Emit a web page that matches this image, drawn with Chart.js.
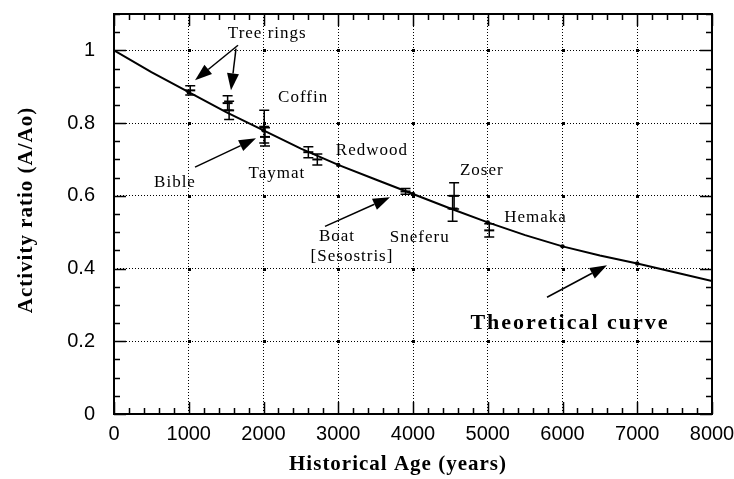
<!DOCTYPE html>
<html>
<head>
<meta charset="utf-8">
<title>Activity ratio vs historical age</title>
<script src="https://cdn.jsdelivr.net/npm/chart.js@4.4.1/dist/chart.umd.min.js"></script>
<style>
  html, body { margin: 0; padding: 0; background: #fff; }
  #wrap { position: relative; width: 734px; height: 479px; }
</style>
</head>
<body>
<div id="wrap"><canvas id="chart"></canvas></div>
<script>
// theoretical decay curve, every 500 years
const curveAges = [0, 500, 1000, 1500, 2000, 2500, 3000, 3500, 4000, 4500, 5000, 5500, 6000, 6500, 7000, 7500, 8000];
const curveRatios = [1.0, 0.94, 0.885, 0.83, 0.78, 0.73, 0.685, 0.645, 0.605, 0.565, 0.527, 0.492, 0.461, 0.436, 0.414, 0.39, 0.366];

// dated samples (value and +/- error)
const sampleNames = ['Tree rings', 'Tree rings', 'Tree rings', 'Coffin', 'Taymat', 'Redwood', 'Redwood', 'Boat', 'Zoser', 'Sneferu', 'Hemaka'];
const sampleAges = [1020, 1520, 1540, 2010, 2020, 2600, 2720, 3900, 4550, 4530, 5020];
const sampleRatios = [0.89, 0.855, 0.835, 0.79, 0.762, 0.72, 0.70, 0.612, 0.60, 0.565, 0.505];
const sampleErrors = [0.013, 0.02, 0.025, 0.045, 0.025, 0.015, 0.015, 0.008, 0.036, 0.035, 0.018];

// axis ticks
const xTicks = [0, 1000, 2000, 3000, 4000, 5000, 6000, 7000, 8000];
const yTicks = [0, 0.2, 0.4, 0.6, 0.8, 1];
const xMinorStep = 200;
const yMinorStep = 0.05;

// text labels on the plot (data coordinates)
const noteTexts = ['Tree rings', 'Coffin', 'Bible', 'Taymat', 'Redwood', 'Boat', '[Sesostris]', 'Zoser', 'Sneferu', 'Hemaka'];
const noteX = [2050, 2530, 816, 2180, 3450, 2983, 3184, 4920, 4090, 5640];
const noteY = [1.047, 0.871, 0.637, 0.662, 0.725, 0.489, 0.434, 0.670, 0.486, 0.541];

// arrows: start -> tip (data coordinates)
const arrowFrom = [[1659, 1.014], [1632, 1.005], [1084, 0.679], [2823, 0.516], [5793, 0.321]];
const arrowTo = [[1084, 0.918], [1565, 0.890], [1900, 0.758], [3692, 0.596], [6595, 0.409]];

const tickFont = { family: 'Liberation Sans', size: 20 };

function drawArrow(ctx, x1, y1, x2, y2) {
    const ang = Math.atan2(y2 - y1, x2 - x1);
    const len = 17, half = 6;
    const bx = x2 - len * Math.cos(ang), by = y2 - len * Math.sin(ang);
    ctx.beginPath();
    ctx.moveTo(x1, y1);
    ctx.lineTo(bx, by);
    ctx.stroke();
    ctx.beginPath();
    ctx.moveTo(x2, y2);
    ctx.lineTo(bx + half * Math.sin(ang), by - half * Math.cos(ang));
    ctx.lineTo(bx - half * Math.sin(ang), by + half * Math.cos(ang));
    ctx.closePath();
    ctx.fill();
}

// the frame is set by layout padding, not by label overhang
function noPad(s) {
    s.paddingTop = 0;
    s.paddingBottom = 0;
    s.paddingLeft = 0;
    s.paddingRight = 0;
}

const decor = {
    id: 'decor',
    beforeDatasetsDraw(chart) {
        const ctx = chart.ctx;
        const xs = chart.scales.x, ys = chart.scales.y;
        // dots where the grid lines cross
        ctx.save();
        ctx.fillStyle = '#000';
        xTicks.slice(1, -1).forEach(xv => {
            yTicks.slice(1).forEach(yv => {
                ctx.fillRect(Math.round(xs.getPixelForValue(xv)) - 1, Math.round(ys.getPixelForValue(yv)) - 1, 3, 3);
            });
        });
        ctx.restore();
    },
    afterDatasetsDraw(chart) {
        const ctx = chart.ctx;
        const area = chart.chartArea;
        const xs = chart.scales.x, ys = chart.scales.y;
        ctx.save();
        ctx.strokeStyle = '#000';
        ctx.fillStyle = '#000';

        // error bars
        ctx.lineWidth = 1.5;
        sampleAges.forEach((age, i) => {
            const px = xs.getPixelForValue(age);
            const top = ys.getPixelForValue(sampleRatios[i] + sampleErrors[i]);
            const bot = ys.getPixelForValue(sampleRatios[i] - sampleErrors[i]);
            ctx.beginPath();
            ctx.moveTo(px, top); ctx.lineTo(px, bot);
            ctx.moveTo(px - 5, top); ctx.lineTo(px + 5, top);
            ctx.moveTo(px - 5, bot); ctx.lineTo(px + 5, bot);
            ctx.stroke();
        });

        // frame
        ctx.lineWidth = 2;
        ctx.strokeRect(area.left, area.top, area.right - area.left, area.bottom - area.top);

        // inward ticks, major and minor, on all four sides
        ctx.lineWidth = 1.5;
        ctx.beginPath();
        for (let v = 0; v <= 8000; v += xMinorStep) {
            const px = Math.round(xs.getPixelForValue(v)) + 0.5;
            const len = xTicks.includes(v) ? 12 : 6;
            ctx.moveTo(px, area.bottom); ctx.lineTo(px, area.bottom - len);
            ctx.moveTo(px, area.top); ctx.lineTo(px, area.top + len);
        }
        for (let k = 0; k <= 22; k++) {
            const v = k * yMinorStep;
            const py = Math.round(ys.getPixelForValue(v)) + 0.5;
            const len = (k % 4 === 0) ? 12 : 6;
            ctx.moveTo(area.left, py); ctx.lineTo(area.left + len, py);
            ctx.moveTo(area.right, py); ctx.lineTo(area.right - len, py);
        }
        ctx.stroke();

        // notes
        ctx.textAlign = 'center';
        ctx.textBaseline = 'middle';
        ctx.font = '17px "Liberation Serif"';
        ctx.letterSpacing = '1px';
        noteTexts.forEach((t, i) => {
            ctx.fillText(t, xs.getPixelForValue(noteX[i]), ys.getPixelForValue(noteY[i]));
        });
        ctx.font = 'bold 22px "Liberation Serif"';
        ctx.letterSpacing = '2px';
        ctx.fillText('Theoretical curve', xs.getPixelForValue(6100), ys.getPixelForValue(0.25));

        // arrows
        ctx.lineWidth = 1.5;
        arrowFrom.forEach((f, i) => {
            drawArrow(ctx, xs.getPixelForValue(f[0]), ys.getPixelForValue(f[1]),
                xs.getPixelForValue(arrowTo[i][0]), ys.getPixelForValue(arrowTo[i][1]));
        });

        // axis titles
        ctx.font = 'bold 21px "Liberation Serif"';
        ctx.letterSpacing = '1px';
        ctx.fillText('Historical Age (years)', 398, 465);
        ctx.translate(27, 210);
        ctx.rotate(-Math.PI / 2);
        ctx.fillText('Activity ratio (A/Ao)', 0, 0);
        ctx.restore();
    }
};

new Chart(document.getElementById('chart'), {
    type: 'scatter',
    data: {
        datasets: [{
            type: 'line',
            label: 'Theoretical curve',
            data: curveAges.map((a, i) => ({ x: a, y: curveRatios[i] })),
            borderColor: '#000',
            borderWidth: 2,
            tension: 0,
            fill: false,
            pointBackgroundColor: '#000',
            pointBorderWidth: 0,
            pointRadius: ctx => {
                const a = curveAges[ctx.dataIndex];
                return (a % 1000 === 0 && a > 0 && a < 8000) ? 2.2 : 0;
            }
        }, {
            label: 'Samples',
            data: sampleAges.map((a, i) => ({ x: a, y: sampleRatios[i] })),
            pointStyle: 'line',
            pointRadius: 5,
            borderColor: '#000',
            borderWidth: 2
        }]
    },
    options: {
        responsive: true,
        maintainAspectRatio: false,
        animation: false,
        layout: { padding: { top: 14, right: 22, left: 0, bottom: 0 } },
        plugins: {
            legend: { display: false },
            tooltip: { enabled: false }
        },
        scales: {
            x: {
                type: 'linear',
                min: 0,
                max: 8000,
                afterBuildTicks: s => { s.ticks = xTicks.map(v => ({ value: v })); },
                afterFit: s => { s.height = 65; noPad(s); },
                ticks: { callback: v => String(v), font: tickFont, color: '#000', padding: 8, maxRotation: 0, autoSkip: false },
                grid: { color: '#000', lineWidth: 1, drawTicks: false },
                border: { display: false, dash: [1, 2] }
            },
            y: {
                type: 'linear',
                min: 0,
                max: 1.1,
                afterBuildTicks: s => { s.ticks = yTicks.map(v => ({ value: v })); },
                afterFit: s => { s.width = 114; noPad(s); },
                ticks: { callback: v => String(v), font: tickFont, color: '#000', padding: 19, autoSkip: false },
                grid: { color: '#000', lineWidth: 1, drawTicks: false },
                border: { display: false, dash: [1, 2] }
            }
        }
    },
    plugins: [decor]
});
</script>
</body>
</html>
